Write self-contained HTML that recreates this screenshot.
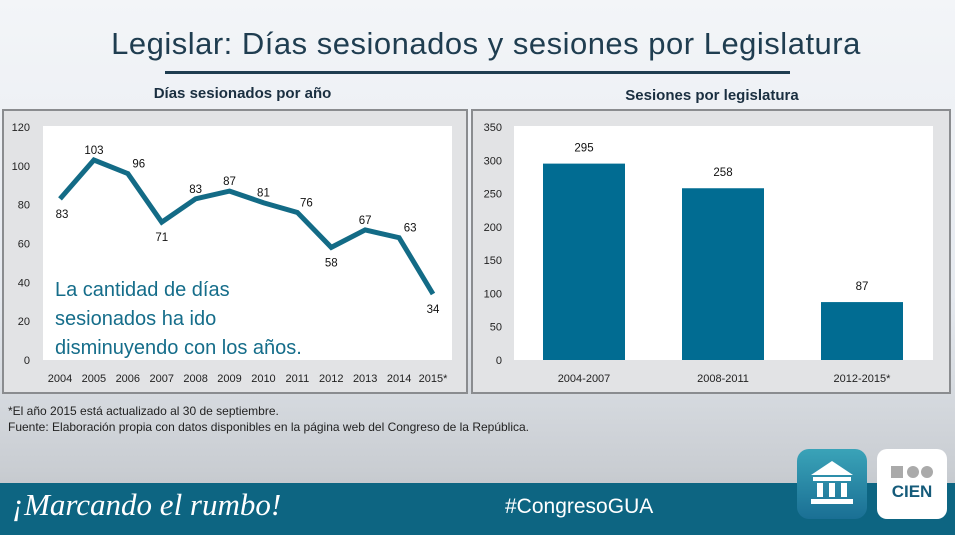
<!DOCTYPE html>
<html><head><meta charset="utf-8"><style>
body{margin:0;width:955px;height:535px;overflow:hidden;font-family:"Liberation Sans",sans-serif;}
#bg{position:absolute;left:0;top:0;width:955px;height:535px;background:linear-gradient(180deg,#f3f5f8 0%,#e6eaf0 55%,#c9cdd2 88%,#b8bcc0 100%);}
.abs{position:absolute;}
</style></head><body>
<div id="bg"></div>
<div class="abs" style="left:0;top:26px;width:972px;text-align:center;font-size:31px;color:#1f3d50;letter-spacing:0.5px;">Legislar: Días sesionados y sesiones por Legislatura</div>
<div class="abs" style="left:165px;top:71px;width:625px;height:3px;background:#1f3d50;"></div>
<div class="abs" style="left:0;top:85px;width:485px;text-align:center;font-size:15px;font-weight:bold;color:#1a2f40;">Días sesionados por año</div>
<div class="abs" style="left:472px;top:87px;width:480px;text-align:center;font-size:15px;font-weight:bold;color:#1a2f40;">Sesiones por legislatura</div>
<svg class="abs" style="left:0;top:0" width="955" height="535">
<rect x="3" y="110" width="464" height="283" fill="#e2e3e5" stroke="#8a8c8f" stroke-width="2"/>
<rect x="43" y="126" width="409" height="234" fill="#fff"/>
<rect x="472" y="110" width="478" height="283" fill="#e2e3e5" stroke="#8a8c8f" stroke-width="2"/>
<rect x="514" y="126" width="419" height="234" fill="#fff"/>
<g id="lc"></g><g id="rc"></g>
<text x="55" y="296" font-size="20" fill="#156d8a" font-family="Liberation Sans,sans-serif">La cantidad de días</text>
<text x="55" y="325" font-size="20" fill="#156d8a" font-family="Liberation Sans,sans-serif">sesionados ha ido</text>
<text x="55" y="354" font-size="20" fill="#156d8a" font-family="Liberation Sans,sans-serif">disminuyendo con los años.</text>
</svg>
<div class="abs" style="left:8px;top:403px;font-size:12px;color:#222;line-height:16px;">*El año 2015 está actualizado al 30 de septiembre.<br>Fuente: Elaboración propia con datos disponibles en la página web del Congreso de la República.</div>
<div class="abs" style="left:0;top:483px;width:955px;height:52px;background:#0d6582;"></div>
<div class="abs" style="left:12px;top:487px;font-size:31px;font-style:italic;color:#fff;font-family:'Liberation Serif',serif;">¡Marcando el rumbo!</div>
<div class="abs" style="left:505px;top:495px;font-size:21px;color:#fff;">#CongresoGUA</div>
<div class="abs" style="left:797px;top:449px;width:70px;height:70px;border-radius:12px;background:linear-gradient(180deg,#3aa3b8,#1a6f94);">
<svg width="70" height="70"><polygon points="35,12 14,26 56,26" fill="#fff"/><rect x="16" y="28" width="38" height="4" fill="#fff"/><rect x="20" y="34" width="6" height="14" fill="#fff"/><rect x="32" y="34" width="6" height="14" fill="#fff"/><rect x="44" y="34" width="6" height="14" fill="#fff"/><rect x="14" y="50" width="42" height="5" fill="#fff"/></svg></div>
<div class="abs" style="left:877px;top:449px;width:70px;height:70px;border-radius:10px;background:#fff;">
<svg width="70" height="70"><rect x="14" y="17" width="12" height="12" fill="#aaa"/><circle cx="36" cy="23" r="6" fill="#aaa"/><circle cx="50" cy="23" r="6" fill="#aaa"/><text x="35" y="48" text-anchor="middle" font-size="17" font-weight="bold" fill="#155b7a" font-family="Liberation Sans,sans-serif">CIEN</text></svg></div>
<script>
const years=["2004","2005","2006","2007","2008","2009","2010","2011","2012","2013","2014","2015*"];
const days=[83,103,96,71,83,87,81,76,58,67,63,34];
const leftTicks=[0,20,40,60,80,100,120];
const legs=["2004-2007","2008-2011","2012-2015*"];
const sessions=[295,258,87];
const rightTicks=[0,50,100,150,200,250,300,350];
const NS="http://www.w3.org/2000/svg";
function mk(p,t,a,txt){const e=document.createElementNS(NS,t);for(const k in a)e.setAttribute(k,a[k]);if(txt!==undefined)e.textContent=txt;p.appendChild(e);return e;}
const lc=document.getElementById('lc');
const ly=v=>360-v*(233/120), lx=i=>60+i*(373/11);
leftTicks.forEach(t=>{const e=mk(lc,'text',{x:30,y:ly(t)+4,'text-anchor':'end','font-size':11,fill:'#222'},t);

});
years.forEach((y,i)=>{const e=mk(lc,'text',{x:lx(i),y:382,'text-anchor':'middle','font-size':11,fill:'#222'},y);

});
const line=mk(lc,'polyline',{points:days.map((d,i)=>lx(i)+','+ly(d)).join(' '),fill:'none',stroke:'#136b86','stroke-width':5,'stroke-linejoin':'miter'});


const below=[0,3,8,11];
days.forEach((d,i)=>{const dy=below.includes(i)?15:-10;const dx=i==0?2:(i==2||i==10?11:(i==7?9:0));
const e=mk(lc,'text',{x:lx(i)+dx,y:ly(d)+dy+4,'text-anchor':'middle','font-size':11.5,fill:'#111'},d);

});
const rc=document.getElementById('rc');
const ry=v=>360-v*(233/350), rx=i=>584+i*139;
rightTicks.forEach(t=>{const e=mk(rc,'text',{x:502,y:ry(t)+4,'text-anchor':'end','font-size':11,fill:'#222'},t);

});
legs.forEach((l,i)=>{const e=mk(rc,'text',{x:rx(i),y:382,'text-anchor':'middle','font-size':11,fill:'#222'},l);

});
sessions.forEach((s,i)=>{const b=mk(rc,'rect',{x:rx(i)-41,y:ry(s),width:82,height:360-ry(s),fill:'#016c92'});


const t=mk(rc,'text',{x:rx(i),y:ry(s)-12,'text-anchor':'middle','font-size':11.5,fill:'#111'},s);

});
</script>
</body></html>
